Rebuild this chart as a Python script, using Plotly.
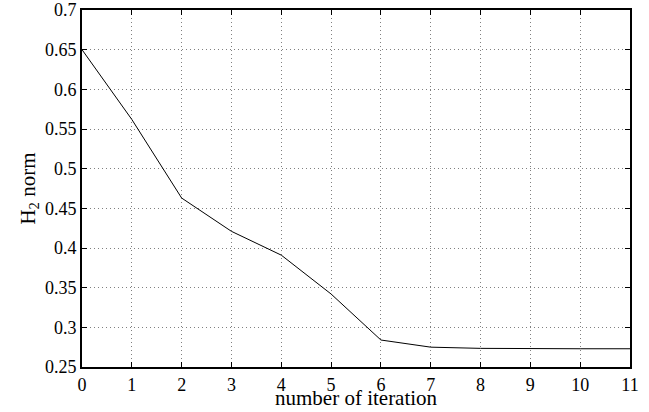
import plotly.graph_objects as go

iterations = [0, 1, 2, 3, 4, 5, 6, 7, 8, 9, 10, 11]
h2_norm = [0.650, 0.562, 0.463, 0.421, 0.391, 0.342, 0.284, 0.275, 0.2735, 0.273, 0.273, 0.273]

x_ticks = list(range(0, 12))
y_ticks = [0.25, 0.3, 0.35, 0.4, 0.45, 0.5, 0.55, 0.6, 0.65, 0.7]
y_labels = ["0.25", "0.3", "0.35", "0.4", "0.45", "0.5", "0.55", "0.6", "0.65", "0.7"]
x_title = "number of iteration"
y_title = "H<sub>2</sub> norm"

fig = go.Figure()
fig.add_trace(go.Scatter(x=iterations, y=h2_norm, mode="lines",
                         line=dict(color="black", width=1), showlegend=False))

font = dict(family="Liberation Serif", size=18, color="black")
grid_dash = "1px,3px"

fig.update_layout(
    width=649, height=412,
    margin=dict(l=82, r=19, t=10, b=44.5),
    paper_bgcolor="white", plot_bgcolor="white",
    font=font,
    xaxis=dict(range=[0, 11], tickvals=x_ticks, showgrid=True, automargin=False,
               gridcolor="#808080", griddash=grid_dash, gridwidth=1,
               ticks="inside", ticklen=5, tickcolor="black",
               showline=True, linecolor="black", linewidth=2, mirror="ticks",
               zeroline=False, tickfont=dict(size=18)),
    yaxis=dict(range=[0.25, 0.7], tickvals=y_ticks, ticktext=y_labels, showgrid=True,
               automargin=False,
               gridcolor="#808080", griddash=grid_dash, gridwidth=1,
               ticks="inside", ticklen=5, tickcolor="black",
               showline=True, linecolor="black", linewidth=2, mirror="ticks",
               zeroline=False,
               title=dict(text=y_title, standoff=4, font=dict(size=21)),
               tickfont=dict(size=18)),
    annotations=[dict(text=x_title, xref="paper", yref="paper", x=0.5, y=0,
                      xanchor="center", yanchor="middle", yshift=-31,
                      showarrow=False, font=dict(size=21))],
)

fig.write_html("out.html", config={"displayModeBar": False},
               post_script="document.body.style.margin='0';")
